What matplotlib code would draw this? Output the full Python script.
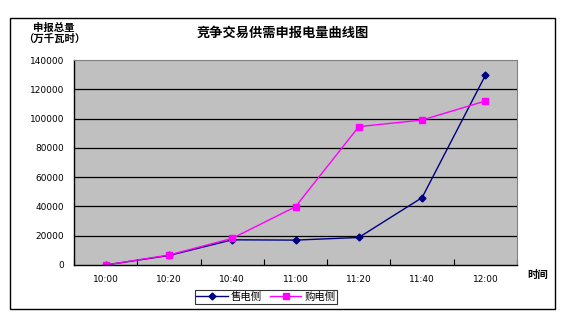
import numpy as np
import matplotlib.pyplot as plt
from matplotlib.patches import Rectangle

plt.rcParams['font.family'] = ['Noto Sans CJK SC', 'DejaVu Sans']

# 数据
times = ['10:00', '10:20', '10:40', '11:00', '11:20', '11:40', '12:00']
sell = [0, 6500, 17200, 17000, 18800, 46000, 129500]
buy = [0, 6800, 18200, 39800, 94500, 99000, 112000]
yticks = [0, 20000, 40000, 60000, 80000, 100000, 120000, 140000]

fig = plt.figure(figsize=(5.65, 3.25), dpi=100)
fig.patch.set_facecolor('white')

# 外框
fig.patches.append(Rectangle((10/565, 1 - 309/325), 545/565, 291/325,
                             transform=fig.transFigure, fill=False,
                             edgecolor='black', linewidth=1.0))

ax = fig.add_axes([74/565, 1 - 265/325, 443/565, 205/325])
ax.set_facecolor('#C0C0C0')

x = np.arange(len(times)) + 0.5
ax.plot(x, sell, color='#000080', linewidth=1, marker='D', markersize=3.5,
        label='售电侧')
ax.plot(x, buy, color='#FF00FF', linewidth=1, marker='s', markersize=5,
        label='购电侧')

ax.set_xlim(0, len(times))
ax.set_ylim(0, 140000)
ax.set_yticks(yticks)
ax.set_yticklabels([str(v) for v in yticks], fontsize=6.5, family='DejaVu Sans')
for v in yticks[1:-1]:
    ax.axhline(v, color='black', linewidth=0.9, zorder=1)

ax.set_xticks(np.arange(len(times) + 1))
ax.set_xticklabels([])
ax.tick_params(axis='x', direction='in', length=4, width=0.8)
ax.tick_params(axis='y', length=0, pad=7)
for xi, t in zip(x, times):
    ax.text(xi, -6500, t, ha='center', va='top', fontsize=6.5,
            family='DejaVu Sans')

for s in ['top', 'right']:
    ax.spines[s].set_color('#808080')
for s in ['left', 'bottom']:
    ax.spines[s].set_color('black')
    ax.spines[s].set_linewidth(1.0)

fig.text(283/565, 1 - 33/325, '竞争交易供需申报电量曲线图', ha='center', va='center',
         fontsize=9.5, fontweight='bold')
fig.text(54/565, 1 - 33/325, '申报总量\n（万千瓦时）', ha='center', va='center',
         fontsize=7.5, fontweight='bold', linespacing=1.1)
fig.text(538/565, 1 - 275/325, '时间', ha='center', va='center',
         fontsize=7.5, fontweight='bold')

leg = fig.legend(loc='center', bbox_to_anchor=(266/565, 1 - 297/325), ncol=2,
                 fontsize=7.5, frameon=True, fancybox=False, edgecolor='black',
                 handlelength=3, borderpad=0.15, columnspacing=0.8,
                 handletextpad=0.3, borderaxespad=0)
leg.get_frame().set_linewidth(0.8)

fig.savefig('out.png', dpi=100)
